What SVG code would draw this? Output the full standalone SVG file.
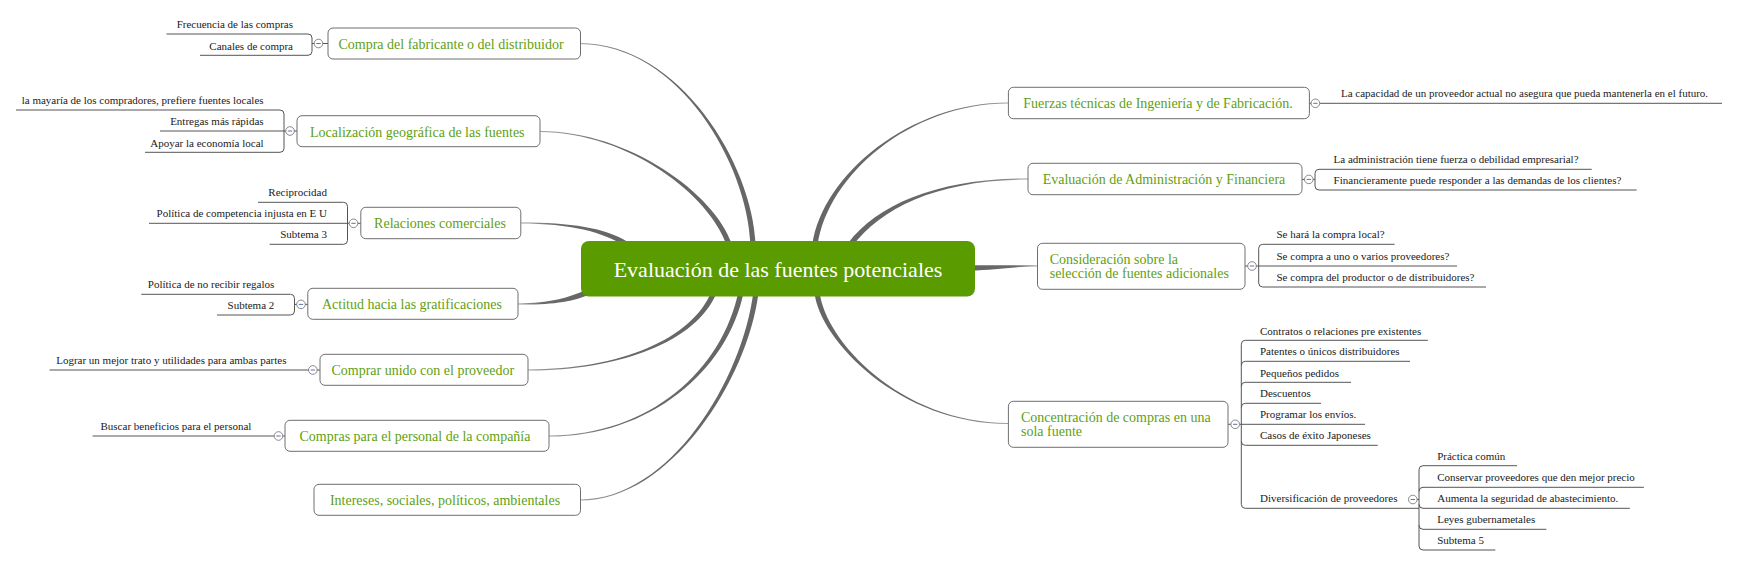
<svg xmlns="http://www.w3.org/2000/svg" width="1738" height="566" viewBox="0 0 1738 566">
<style>
text{font-family:"Liberation Serif","DejaVu Serif",serif}
.bg{fill:#ffffff}
.cl{fill:url(#gl);stroke:none}
.cr{fill:url(#gr);stroke:none}
.br{fill:none;stroke:#555555;stroke-width:1}
.box{fill:#ffffff;stroke:#6e6e6e;stroke-width:1}
.root{fill:#5a9b00}
.rt{fill:#ffffff;font-size:22px;text-anchor:middle}
.t{fill:#5f9f12;font-size:14px}
.tm{fill:#5f9f12;font-size:14px;text-anchor:middle}
.l{fill:#1a1a1a;font-size:11px}
.le{fill:#1a1a1a;font-size:11px;text-anchor:end}
.tg{fill:#ffffff;stroke:#7c7c7c;stroke-width:0.9}
.mn{stroke:#5b74b3;stroke-width:1}
</style>
<defs>
<linearGradient id="gl" x1="0" y1="0" x2="1" y2="0">
<stop offset="0" stop-color="#a0a0a0"/>
<stop offset="0.35" stop-color="#6a6a6a"/>
<stop offset="1" stop-color="#666666"/>
</linearGradient>
<linearGradient id="gr" x1="1" y1="0" x2="0" y2="0">
<stop offset="0" stop-color="#a0a0a0"/>
<stop offset="0.35" stop-color="#6a6a6a"/>
<stop offset="1" stop-color="#666666"/>
</linearGradient>
<g id="toggle"><circle class="tg" r="4.3"/><line class="mn" x1="-2.2" y1="0" x2="2.2" y2="0"/></g>
</defs>
<rect class="bg" x="0" y="0" width="1738" height="566"/>
<g id="connectors">
<path class="cl" d="M580,44.1 C680,44.6 747.4,165.1 750.4,244.1 L755.6,243.9 C752.6,164.9 680,43.4 580,42.9 Z"/>
<path class="cl" d="M540,132.1 C630,132.6 709.5,195.9 726.5,244.9 L731.5,243.2 C714.5,194.2 630,131.4 540,130.9 Z"/>
<path class="cl" d="M521,223.6 C570,223.6 603.6,232.2 624.6,246.2 L627.4,241.8 C606.4,227.8 570,222.4 521,222.4 Z"/>
<path class="cl" d="M518,304.6 C550,304.6 571.1,302.4 589.1,294.4 L586.9,289.6 C568.9,297.6 550,303.4 518,303.4 Z"/>
<path class="cl" d="M528,370.6 C620,370.6 697.4,341 716.4,293 L711.6,291 C692.6,339 620,369.4 528,369.4 Z"/>
<path class="cl" d="M549,436.6 C650,436.6 727.6,370.5 743.6,292.5 L738.4,291.5 C722.4,369.5 650,435.4 549,435.4 Z"/>
<path class="cl" d="M580.5,500.6 C670,500.6 747.6,380.3 758.6,292.3 L753.4,291.7 C742.4,379.7 670,499.4 580.5,499.4 Z"/>
<path class="cr" d="M1008,102.4 C910,102.4 822.4,174.6 812.4,244.6 L817.6,245.4 C827.6,175.4 910,103.6 1008,103.6 Z"/>
<path class="cr" d="M1028,178.4 C940,178.4 877.9,203.4 847.9,243.4 L852.1,246.6 C882.1,206.6 940,179.6 1028,179.6 Z"/>
<path class="cr" d="M1037.5,265.4 C1010,265.4 995,264.9 970,265.4 L970,270.6 C995,270.1 1010,266.6 1037.5,266.6 Z"/>
<path class="cr" d="M1008,422.9 C900,422.9 824.6,339.7 819.6,291.7 L814.4,292.3 C819.4,340.3 900,424.1 1008,424.1 Z"/>
<path class="br" d="M166.5,34 H308 Q312,34 312,38 V51.3 Q312,55.3 308,55.3 H200 M312,43.5 H328"/>
<path class="br" d="M16,110 H280 Q284,110 284,114 V148.3 Q284,152.3 280,152.3 H145 M160,131 H297"/>
<path class="br" d="M258,202.3 H343.5 Q347.5,202.3 347.5,206.3 V240.3 Q347.5,244.3 343.5,244.3 H269.7 M149,223.3 H360.8"/>
<path class="br" d="M141.3,294.3 H290.5 Q294.5,294.3 294.5,298.3 V311 Q294.5,315 290.5,315 H217 M294.5,304.4 H307.8"/>
<path class="br" d="M49.5,370 H320"/>
<path class="br" d="M92.6,436 H285"/>
<path class="br" d="M1309.3,103.3 H1722"/>
<path class="br" d="M1591.7,169.3 H1319 Q1315,169.3 1315,173.3 V186 Q1315,190 1319,190 H1636.7 M1302,179.4 H1315"/>
<path class="br" d="M1394.6,244.3 H1262.7 Q1258.7,244.3 1258.7,248.3 V283 Q1258.7,287 1262.7,287 H1486 M1245,266 H1457"/>
<path class="br" d="M1427.8,340.3 H1245.3 Q1241.3,340.3 1241.3,344.3 V504.3 Q1241.3,508.3 1245.3,508.3 H1419 M1241.3,365.3 Q1241.3,361.3 1245.3,361.3 H1410 M1241.3,386.3 Q1241.3,382.3 1245.3,382.3 H1351 M1241.3,407.3 Q1241.3,403.3 1245.3,403.3 H1321 M1228,424.3 H1365 M1241.3,441.3 Q1241.3,445.3 1245.3,445.3 H1377.7"/>
<path class="br" d="M1517,465.7 H1423 Q1419,465.7 1419,469.7 V546 Q1419,550 1423,550 H1495.3 M1419,491.3 Q1419,487.3 1423,487.3 H1643.9 M1419,504.3 Q1419,508.3 1423,508.3 H1629.8 M1419,525.3 Q1419,529.3 1423,529.3 H1546.4 M1413,499.5 H1419"/>
</g>
<g id="root">
<rect class="root" x="581" y="241" width="394" height="55.5" rx="8"/>
<text class="rt" x="778" y="277">Evaluación de las fuentes potenciales</text>
</g>
<g id="n-compra-fabricante">
<rect class="box" x="328" y="28" width="252.5" height="31" rx="5"/>
<text class="tm" x="451" y="48.5">Compra del fabricante o del distribuidor</text>
<use href="#toggle" x="318.5" y="43.5"/>
</g>
<g id="n-frecuencia"><text class="le" x="293" y="28.3">Frecuencia de las compras</text></g>
<g id="n-canales"><text class="le" x="293" y="49.5">Canales de compra</text></g>
<g id="n-localizacion">
<rect class="box" x="297" y="115.7" width="243" height="31" rx="5"/>
<text class="tm" x="417.3" y="136.5">Localización geográfica de las fuentes</text>
<use href="#toggle" x="290" y="131"/>
</g>
<g id="n-mayaria"><text class="le" x="263.6" y="104">la mayaría de los compradores, prefiere fuentes locales</text></g>
<g id="n-entregas"><text class="le" x="263.6" y="125">Entregas más rápidas</text></g>
<g id="n-apoyar"><text class="le" x="263.6" y="146.5">Apoyar la economía local</text></g>
<g id="n-relaciones">
<rect class="box" x="360.8" y="207.3" width="160" height="31.4" rx="5"/>
<text class="tm" x="440" y="227.5">Relaciones comerciales</text>
<use href="#toggle" x="353.5" y="223.3"/>
</g>
<g id="n-reciprocidad"><text class="le" x="327" y="196.3">Reciprocidad</text></g>
<g id="n-politica-eu"><text class="le" x="327" y="217.3">Política de competencia injusta en E U</text></g>
<g id="n-subtema3"><text class="le" x="327" y="238.3">Subtema 3</text></g>
<g id="n-actitud">
<rect class="box" x="307.8" y="288.3" width="210.2" height="31" rx="5"/>
<text class="tm" x="412" y="308.8">Actitud hacia las gratificaciones</text>
<use href="#toggle" x="301" y="304.4"/>
</g>
<g id="n-regalos"><text class="le" x="274.3" y="288.3">Política de no recibir regalos</text></g>
<g id="n-subtema2"><text class="le" x="274.3" y="309">Subtema 2</text></g>
<g id="n-comprar-unido">
<rect class="box" x="320" y="354.3" width="208" height="31" rx="5"/>
<text class="tm" x="422.8" y="375">Comprar unido con el proveedor</text>
<use href="#toggle" x="312.8" y="370"/>
</g>
<g id="n-lograr"><text class="le" x="286.5" y="364.3">Lograr un mejor trato y utilidades para ambas partes</text></g>
<g id="n-compras-personal">
<rect class="box" x="285" y="420.3" width="264" height="31" rx="5"/>
<text class="tm" x="415" y="441">Compras para el personal de la compañía</text>
<use href="#toggle" x="278.5" y="436"/>
</g>
<g id="n-buscar"><text class="le" x="251.4" y="430">Buscar beneficios para el personal</text></g>
<g id="n-intereses">
<rect class="box" x="314" y="484.3" width="266.5" height="31" rx="5"/>
<text class="tm" x="445" y="505">Intereses, sociales, políticos, ambientales</text>
</g>
<g id="n-fuerzas">
<rect class="box" x="1008.4" y="87.3" width="301" height="31.4" rx="5"/>
<text class="tm" x="1158" y="108">Fuerzas técnicas de Ingeniería y de Fabricación.</text>
<use href="#toggle" x="1315.4" y="103.3"/>
</g>
<g id="n-capacidad"><text class="l" x="1341" y="97.3">La capacidad de un proveedor actual no asegura que pueda mantenerla en el futuro.</text></g>
<g id="n-evaluacion">
<rect class="box" x="1028" y="163.3" width="274" height="31.4" rx="5"/>
<text class="tm" x="1164" y="184">Evaluación de Administración y Financiera</text>
<use href="#toggle" x="1308.8" y="179.4"/>
</g>
<g id="n-administracion"><text class="l" x="1333.6" y="163.3">La administración tiene fuerza o debilidad empresarial?</text></g>
<g id="n-financieramente"><text class="l" x="1333.6" y="184">Financieramente puede responder a las demandas de los clientes?</text></g>
<g id="n-consideracion">
<rect class="box" x="1037.5" y="243.3" width="207.5" height="46" rx="5"/>
<text class="t" x="1049.7" y="263.5">Consideración sobre la</text>
<text class="t" x="1049.7" y="278.3">selección de fuentes adicionales</text>
<use href="#toggle" x="1252" y="266"/>
</g>
<g id="n-local"><text class="l" x="1276.5" y="238.3">Se hará la compra local?</text></g>
<g id="n-uno-varios"><text class="l" x="1276.5" y="260">Se compra a uno o varios proveedores?</text></g>
<g id="n-productor"><text class="l" x="1276.5" y="281">Se compra del productor o de distribuidores?</text></g>
<g id="n-concentracion">
<rect class="box" x="1008.4" y="401.3" width="219.6" height="46" rx="5"/>
<text class="t" x="1021" y="421.7">Concentración de compras en una</text>
<text class="t" x="1021" y="436.3">sola fuente</text>
<use href="#toggle" x="1235.2" y="424.3"/>
</g>
<g id="n-contratos"><text class="l" x="1260" y="334.7">Contratos o relaciones pre existentes</text></g>
<g id="n-patentes"><text class="l" x="1260" y="355.3">Patentes o únicos distribuidores</text></g>
<g id="n-pequenos"><text class="l" x="1260" y="376.7">Pequeños pedidos</text></g>
<g id="n-descuentos"><text class="l" x="1260" y="397.3">Descuentos</text></g>
<g id="n-programar"><text class="l" x="1260" y="418.3">Programar los envíos.</text></g>
<g id="n-casos"><text class="l" x="1260" y="439.3">Casos de éxito Japoneses</text></g>
<g id="n-diversificacion">
<text class="l" x="1260" y="502">Diversificación de proveedores</text>
<use href="#toggle" x="1412.8" y="499.5"/>
</g>
<g id="n-practica"><text class="l" x="1437.2" y="460">Práctica común</text></g>
<g id="n-conservar"><text class="l" x="1437.2" y="481">Conservar proveedores que den mejor precio</text></g>
<g id="n-aumenta"><text class="l" x="1437.2" y="502">Aumenta la seguridad de abastecimiento.</text></g>
<g id="n-leyes"><text class="l" x="1437.2" y="523">Leyes gubernametales</text></g>
<g id="n-subtema5"><text class="l" x="1437.2" y="544">Subtema 5</text></g>
</svg>
